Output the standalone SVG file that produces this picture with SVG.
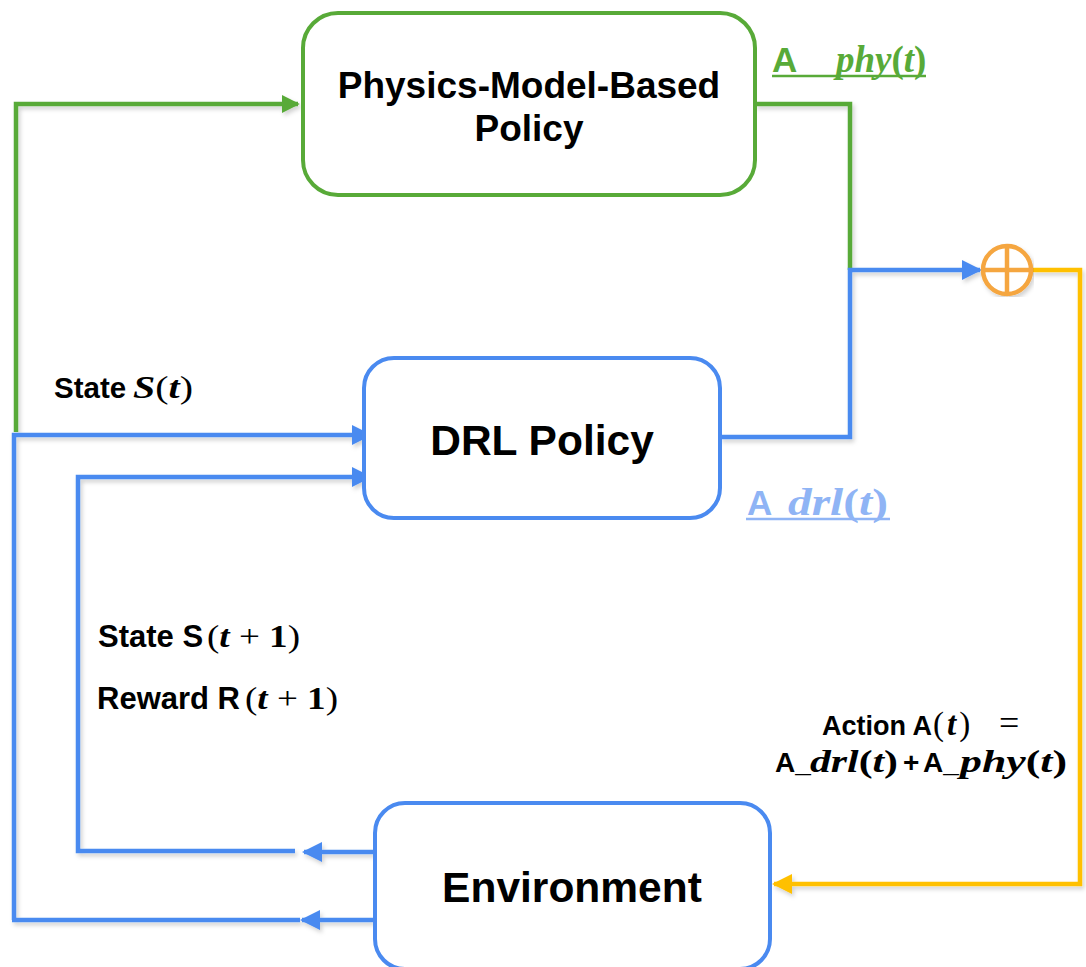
<svg xmlns="http://www.w3.org/2000/svg" width="1086" height="967" viewBox="0 0 1086 967">
<defs>
<filter id="sh" x="-5%" y="-5%" width="110%" height="110%"><feDropShadow dx="2" dy="3" stdDeviation="2" flood-color="#000" flood-opacity="0.18"/></filter>
<marker id="ag" viewBox="0 0 10 10" refX="9" refY="5" markerWidth="4" markerHeight="4" orient="auto"><path d="M0,0 L10,5 L0,10 z" fill="#58aa38"/></marker>
<marker id="ab2" viewBox="0 0 10 10" refX="9" refY="5" markerWidth="4.5" markerHeight="4.5" orient="auto"><path d="M0,0 L10,5 L0,10 z" fill="#4a8af0"/></marker>
<marker id="ay" viewBox="0 0 10 10" refX="9" refY="5" markerWidth="4.5" markerHeight="4.5" orient="auto"><path d="M0,0 L10,5 L0,10 z" fill="#ffc000"/></marker>
</defs>
<style>
.box{fill:#fff;stroke-width:4}
.g{stroke:#58aa38}
.b{stroke:#4a8af0}
.ln{fill:none;stroke-width:4.5;stroke-linejoin:miter}
.t{font-family:"Liberation Sans",Arial,sans-serif;font-weight:bold}
.m{font-family:"Liberation Serif","Times New Roman",serif;font-weight:bold;font-style:italic}
.r{font-style:normal}
.n{font-weight:normal;font-style:normal}
</style>
<rect width="1086" height="967" fill="#fff"/>
<g id="connectors" filter="url(#sh)">
<polyline class="ln g" points="16,432 16,104 298,104" marker-end="url(#ag)"/>
<polyline class="ln g" points="755,104 850,104 850,270"/>
<polyline class="ln b" points="720,437 850,437 850,270 980,270" marker-end="url(#ab2)"/>
<polyline class="ln" stroke="#ffc000" points="1031,270 1080,270 1080,884 774,884" marker-end="url(#ay)"/>
<polyline class="ln b" points="14,920 14,435 370,435" marker-end="url(#ab2)"/>
<polyline class="ln b" points="295,851 78,851 78,477 370,477" marker-end="url(#ab2)"/>
<line class="ln b" x1="374" y1="852" x2="304" y2="852" marker-end="url(#ab2)"/>
<line class="ln b" x1="373" y1="920" x2="302" y2="920" marker-end="url(#ab2)"/>
<line class="ln b" x1="300" y1="920" x2="12" y2="920"/>
</g>
<g id="sum" filter="url(#sh)">
<circle cx="1007" cy="270" r="24" fill="#fff" stroke="#f5a640" stroke-width="4.5"/>
<line x1="983" y1="270" x2="1031" y2="270" stroke="#f5a640" stroke-width="4.5"/>
<line x1="1007" y1="246" x2="1007" y2="294" stroke="#f5a640" stroke-width="4.5"/>
</g>
<g id="physics">
<rect class="box g" x="303" y="13" width="452" height="182" rx="35"/>
<text class="t" x="529" y="98" font-size="37" text-anchor="middle" fill="#000">Physics-Model-Based</text>
<text class="t" x="529" y="141" font-size="37" text-anchor="middle" fill="#000">Policy</text>
</g>
<g id="drl">
<rect class="box b" x="364" y="358" width="356" height="160" rx="30"/>
<text class="t" x="542" y="455" font-size="42.5" text-anchor="middle" fill="#000">DRL Policy</text>
</g>
<g id="environment">
<rect class="box b" x="375" y="803" width="395" height="166" rx="30"/>
<text class="t" x="572" y="902" font-size="42.5" text-anchor="middle" fill="#000">Environment</text>
</g>
<g id="labels">
<text x="772" y="72" fill="#58aa38"><tspan class="t" font-size="35">A</tspan><tspan class="m" x="836" font-size="37">phy<tspan class="r">(</tspan>t<tspan class="r">)</tspan></tspan></text>
<line x1="772" y1="76" x2="926" y2="76" stroke="#58aa38" stroke-width="2.5"/>

<text class="t" x="747" y="515" font-size="35" fill="#8fb4f5">A</text>
<text class="m" x="788" y="515" font-size="38" fill="#8fb4f5" textLength="100" lengthAdjust="spacingAndGlyphs">drl<tspan class="r">(</tspan>t<tspan class="r">)</tspan></text>
<line x1="746" y1="519" x2="890" y2="519" stroke="#8fb4f5" stroke-width="2.5"/>

<text class="t" x="54" y="398" font-size="29.5" fill="#000">State</text>
<text class="m" x="133" y="398" font-size="31" fill="#000" textLength="60" lengthAdjust="spacingAndGlyphs">S<tspan class="n">(</tspan>t<tspan class="n">)</tspan></text>

<text class="t" x="98" y="647" font-size="31" fill="#000">State S</text>
<text class="m" x="207" y="647" font-size="32" fill="#000" textLength="93" lengthAdjust="spacingAndGlyphs"><tspan class="n">(</tspan>t<tspan class="n"> + </tspan><tspan class="r">1</tspan><tspan class="n">)</tspan></text>

<text class="t" x="97" y="709" font-size="31" fill="#000">Reward R</text>
<text class="m" x="245" y="709" font-size="32" fill="#000" textLength="93" lengthAdjust="spacingAndGlyphs"><tspan class="n">(</tspan>t<tspan class="n"> + </tspan><tspan class="r">1</tspan><tspan class="n">)</tspan></text>

<text x="822" y="735" fill="#000"><tspan class="t" font-size="27">Action A</tspan><tspan x="933" font-family="Liberation Serif,serif" font-size="33" letter-spacing="3">(</tspan><tspan class="m" font-size="33" letter-spacing="3">t</tspan><tspan font-family="Liberation Serif,serif" font-size="33">)</tspan><tspan x="999" font-family="Liberation Serif,serif" font-size="36">=</tspan></text>

<text class="t" x="775" y="772" font-size="28" fill="#000">A_</text>
<text class="m" x="810" y="772" font-size="32" fill="#000" textLength="88" lengthAdjust="spacingAndGlyphs">drl<tspan class="r">(</tspan>t<tspan class="r">)</tspan></text>
<text class="t" x="903" y="772" font-size="28" fill="#000">+</text>
<text class="t" x="923" y="772" font-size="28" fill="#000">A_</text>
<text class="m" x="960" y="772" font-size="32" fill="#000" textLength="107" lengthAdjust="spacingAndGlyphs">phy<tspan class="r">(</tspan>t<tspan class="r">)</tspan></text>
</g>
</svg>
